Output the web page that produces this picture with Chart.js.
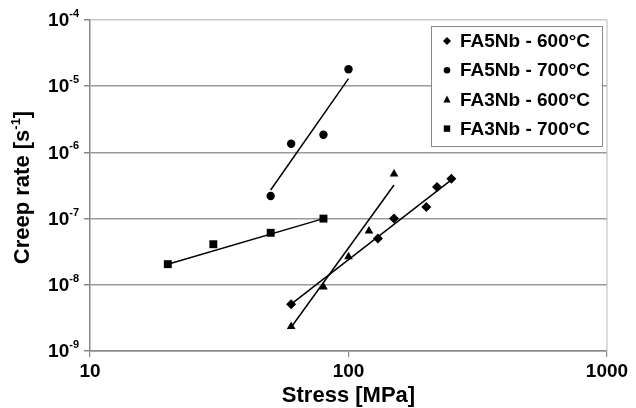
<!DOCTYPE html>
<html>
<head>
<meta charset="utf-8">
<script src="https://cdn.jsdelivr.net/npm/chart.js@4/dist/chart.umd.min.js"></script>
<style>
  html, body { margin: 0; padding: 0; background: #fff; }
  #wrap { width: 636px; height: 408px; }
</style>
</head>
<body>
<div id="wrap"><canvas id="c" width="636" height="408"></canvas></div>
<script>
// ---- data ----
const seriesLabels = ['FA5Nb - 600°C', 'FA5Nb - 700°C', 'FA3Nb - 600°C', 'FA3Nb - 700°C'];

const fa5nb600Stress = [60, 130, 150, 200, 220, 250];
const fa5nb600Rate   = [5.1e-9, 5.0e-8, 1.0e-7, 1.5e-7, 3.0e-7, 4.0e-7];
const fa5nb700Stress = [50, 60, 80, 100];
const fa5nb700Rate   = [2.2e-7, 1.35e-6, 1.85e-6, 1.8e-5];
const fa3nb600Stress = [60, 80, 100, 120, 150];
const fa3nb600Rate   = [2.35e-9, 9.3e-9, 2.65e-8, 6.5e-8, 4.7e-7];
const fa3nb700Stress = [20, 30, 50, 80];
const fa3nb700Rate   = [2.05e-8, 4.1e-8, 6.1e-8, 1.0e-7];

// trend line end points
const fa5nb600FitStress = [60, 250];
const fa5nb600FitRate   = [5.1e-9, 3.85e-7];
const fa5nb700FitStress = [50, 100];
const fa5nb700FitRate   = [2.7e-7, 1.3e-5];
const fa3nb600FitStress = [60, 150];
const fa3nb600FitRate   = [2.28e-9, 3.22e-7];
const fa3nb700FitStress = [20, 80];
const fa3nb700FitRate   = [2.05e-8, 1.0e-7];

const xTickValues = [10, 100, 1000];
const yTickValues = [1e-9, 1e-8, 1e-7, 1e-6, 1e-5, 1e-4];
const yTickExponents = ['-9', '-8', '-7', '-6', '-5', '-4'];
const xTitle = 'Stress [MPa]';
const yTitleMain = 'Creep rate [s';
const yTitleSup = '-1';
const yTitleEnd = ']';

// ---- build ----
const FONT = '"Liberation Sans", Arial, sans-serif';
const pts = (xs, ys) => xs.map((x, i) => ({ x: x, y: ys[i] }));
const markerStyles = ['rectRot', 'circle', 'triangle', 'rect'];
const markerRadius = [5, 4.2, 5, 5.6];

function pointSet(label, xs, ys, k) {
  return {
    label: label, data: pts(xs, ys), showLine: false,
    pointStyle: markerStyles[k], pointRadius: markerRadius[k],
    pointBackgroundColor: '#000', pointBorderColor: '#000', pointBorderWidth: 0,
    order: 1
  };
}
function fitSet(xs, ys) {
  return {
    label: '', data: pts(xs, ys), showLine: true, pointRadius: 0,
    borderColor: '#000', borderWidth: 1.5, fill: false, order: 2
  };
}

const datasets = [
  fitSet(fa5nb600FitStress, fa5nb600FitRate),
  fitSet(fa5nb700FitStress, fa5nb700FitRate),
  fitSet(fa3nb600FitStress, fa3nb600FitRate),
  fitSet(fa3nb700FitStress, fa3nb700FitRate),
  pointSet(seriesLabels[0], fa5nb600Stress, fa5nb600Rate, 0),
  pointSet(seriesLabels[1], fa5nb700Stress, fa5nb700Rate, 1),
  pointSet(seriesLabels[2], fa3nb600Stress, fa3nb600Rate, 2),
  pointSet(seriesLabels[3], fa3nb700Stress, fa3nb700Rate, 3)
];

function drawMarker(ctx, style, x, y, r) {
  ctx.beginPath();
  if (style === 'rectRot') {
    ctx.moveTo(x, y - r); ctx.lineTo(x + r, y); ctx.lineTo(x, y + r); ctx.lineTo(x - r, y);
  } else if (style === 'circle') {
    ctx.arc(x, y, r, 0, Math.PI * 2);
  } else if (style === 'triangle') {
    ctx.moveTo(x, y - r); ctx.lineTo(x + r * 0.9, y + r * 0.75); ctx.lineTo(x - r * 0.9, y + r * 0.75);
  } else {
    ctx.rect(x - r, y - r, 2 * r, 2 * r);
  }
  ctx.closePath();
  ctx.fill();
}

const customText = {
  id: 'customText',
  afterDraw(chart) {
    const ctx = chart.ctx;
    const ys = chart.scales.y;
    const area = chart.chartArea;
    ctx.save();
    ctx.fillStyle = '#000';

    // right border line
    ctx.strokeStyle = '#c4c4c4';
    ctx.lineWidth = 1.2;
    ctx.beginPath(); ctx.moveTo(area.right, area.top); ctx.lineTo(area.right, area.bottom); ctx.stroke();

    // y tick labels with superscripts
    const labelRight = 79;
    yTickValues.forEach((v, i) => {
      const py = ys.getPixelForValue(v);
      ctx.font = 'bold 11px ' + FONT;
      const sup = yTickExponents[i];
      const sw = ctx.measureText(sup).width;
      ctx.textAlign = 'left';
      ctx.textBaseline = 'alphabetic';
      ctx.fillText(sup, labelRight - sw, py - 3);
      ctx.font = 'bold 19px ' + FONT;
      ctx.textAlign = 'right';
      ctx.textBaseline = 'middle';
      ctx.fillText('10', labelRight - sw, py + 1);
    });

    // y title, rotated, with superscript
    ctx.save();
    ctx.translate(23, (area.top + area.bottom) / 2 + 2);
    ctx.rotate(-Math.PI / 2);
    const mainFont = 'bold 22px ' + FONT;
    const supFont = 'bold 13px ' + FONT;
    ctx.font = mainFont; const w1 = ctx.measureText(yTitleMain).width; const w3 = ctx.measureText(yTitleEnd).width;
    ctx.font = supFont; const w2 = ctx.measureText(yTitleSup).width;
    let x0 = -(w1 + w2 + w3) / 2;
    ctx.textAlign = 'left';
    ctx.textBaseline = 'middle';
    ctx.font = mainFont; ctx.fillText(yTitleMain, x0, 0);
    ctx.font = supFont; ctx.textBaseline = 'alphabetic'; ctx.fillText(yTitleSup, x0 + w1, -3);
    ctx.font = mainFont; ctx.textBaseline = 'middle'; ctx.fillText(yTitleEnd, x0 + w1 + w2, 0);
    ctx.restore();

    // legend box
    const lx = 431, ly = 26, lw = 171, lh = 120;
    ctx.fillStyle = '#fff';
    ctx.fillRect(lx, ly, lw, lh);
    ctx.strokeStyle = '#8a8a8a';
    ctx.lineWidth = 1;
    ctx.strokeRect(lx + 0.5, ly + 0.5, lw, lh);
    ctx.fillStyle = '#000';
    ctx.font = 'bold 19px ' + FONT;
    ctx.textAlign = 'left';
    ctx.textBaseline = 'middle';
    const legendR = [4, 3.3, 4, 3.2];
    seriesLabels.forEach((lab, i) => {
      const cy = ly + 15 + i * 29.2;
      drawMarker(ctx, markerStyles[i], 447, cy, legendR[i]);
      ctx.fillText(lab, 460, cy + 1);
    });
    ctx.restore();
  }
};

new Chart(document.getElementById('c'), {
  type: 'scatter',
  data: { datasets: datasets },
  plugins: [customText],
  options: {
    responsive: false,
    animation: false,
    devicePixelRatio: 1,
    layout: { padding: { top: 20, right: 29, left: 0, bottom: 0 } },
    plugins: { legend: { display: false }, tooltip: { enabled: false } },
    scales: {
      x: {
        type: 'logarithmic', min: 10, max: 1000, position: 'bottom',
        afterBuildTicks: s => { s.ticks = xTickValues.map(v => ({ value: v })); },
        afterFit: s => { s.height = 57; },
        ticks: {
          callback: v => String(v), color: '#000', padding: 3,
          maxRotation: 0, autoSkip: false,
          font: { family: FONT, size: 19, weight: 'bold' }
        },
        grid: {
          color: c => 'rgba(0,0,0,0)',
          tickColor: '#888', tickLength: 6, lineWidth: 1.2
        },
        border: { color: '#888', width: 1.5 },
        title: {
          display: true, text: xTitle, color: '#000',
          font: { family: FONT, size: 22, weight: 'bold', lineHeight: 1 },
          padding: { top: 0, bottom: 1 }
        }
      },
      y: {
        type: 'logarithmic', min: 1e-9, max: 1e-4,
        afterBuildTicks: s => { s.ticks = yTickValues.map(v => ({ value: v })); },
        afterFit: s => { s.width = 90; },
        ticks: { display: false },
        grid: {
          color: c => (c.tick && c.tick.value === 1e-4) ? '#c8c8c8' : '#9a9a9a',
          lineWidth: 1.5, tickColor: '#888', tickLength: 6
        },
        border: { color: '#888', width: 1.5 }
      }
    }
  }
});
</script>
</body>
</html>
